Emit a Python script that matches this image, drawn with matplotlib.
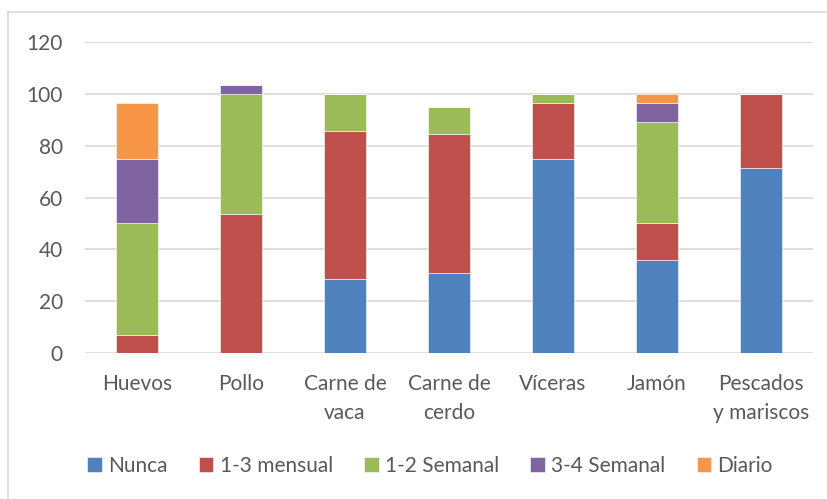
import numpy as np
import matplotlib.pyplot as plt
from matplotlib.lines import Line2D

plt.rcParams['font.family'] = ['Lato', 'DejaVu Sans']

categories = ["Huevos", "Pollo", "Carne de\nvaca", "Carne de\ncerdo",
              "Víceras", "Jamón", "Pescados\ny mariscos"]
nunca = [0, 0, 28.6, 30.9, 75.0, 35.7, 71.4]
mensual = [7.1, 53.6, 57.1, 53.7, 21.4, 14.3, 28.6]
semanal_12 = [42.9, 46.4, 14.3, 10.5, 3.6, 39.3, 0]
semanal_34 = [25.0, 3.6, 0, 0, 0, 7.1, 0]
diario = [21.4, 0, 0, 0, 0, 3.6, 0]

series = [
    ("Nunca", nunca, "#4f81bd"),
    ("1-3 mensual", mensual, "#c0504d"),
    ("1-2 Semanal", semanal_12, "#9bbb59"),
    ("3-4 Semanal", semanal_34, "#8064a2"),
    ("Diario", diario, "#f79646"),
]

fig = plt.figure(figsize=(8.27, 4.99), dpi=100)
ax = fig.add_axes([85 / 827, 1 - 353 / 499, (813 - 85) / 827, (353 - 42) / 499])

x = np.arange(len(categories))
bottom = np.zeros(len(categories))
for label, vals, color in series:
    vals = np.array(vals)
    ax.bar(x, vals, bottom=bottom, width=0.4, color=color, label=label,
           edgecolor='white', linewidth=0.4, zorder=3)
    bottom += vals

ax.set_xlim(-0.5, len(categories) - 0.5)
ax.set_ylim(0, 120)
ax.set_yticks(range(0, 121, 20))
ax.yaxis.grid(True, color='#d9d9d9', linewidth=1.2, zorder=0)
for s in ax.spines.values():
    s.set_visible(False)
ax.tick_params(axis='both', length=0, labelsize=15, colors='#595959')
ax.tick_params(axis='y', pad=16)
ax.set_xticks(x)
ax.set_xticklabels(categories, linespacing=1.55, va='top')
ax.tick_params(axis='x', pad=15)

ax.legend(loc='center', bbox_to_anchor=(0.52, 1 - 466 / 499), bbox_transform=fig.transFigure,
          ncol=5, frameon=False, fontsize=15, labelcolor='#595959',
          handlelength=0.7, handleheight=0.7, handletextpad=0.3, columnspacing=1.5)

# outer chart border (left and top edges visible)
fig.add_artist(Line2D([7.5 / 827, 7.5 / 827], [0, 1 - 12 / 499], transform=fig.transFigure,
                      color='#d9d9d9', linewidth=1.2))
fig.add_artist(Line2D([7.5 / 827, 1], [1 - 12 / 499, 1 - 12 / 499], transform=fig.transFigure,
                      color='#d9d9d9', linewidth=1.2))

plt.savefig("out.png", dpi=100)
